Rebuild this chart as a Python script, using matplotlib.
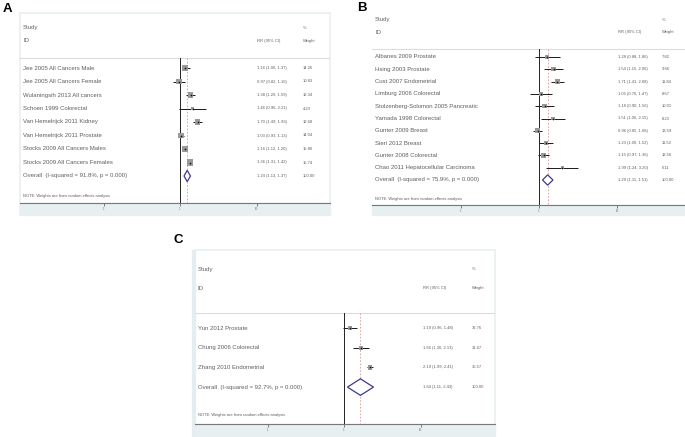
import numpy as np
import matplotlib.pyplot as plt
from matplotlib.patches import Rectangle, Polygon

plt.rcParams['font.family'] = ['Liberation Sans', 'DejaVu Sans']

W, H = 685, 437

# ---- panel A data ----
a_studies = ["Jee 2005 All Cancers Male", "Jee 2005 All Cancers Female",
             "Wulaningsih 2013 All cancers", "Schoen 1999 Colorectal",
             "Van Hemelrijck 2011 Kidney", "Van Hemelrijck 2011 Prostate",
             "Stocks 2009 All Cancers Males", "Stocks 2009 All Cancers Females"]
a_rr = [1.16, 0.97, 1.38, 1.46, 1.70, 1.03, 1.16, 1.36]
a_lo = [1.06, 0.82, 1.20, 0.96, 1.49, 0.93, 1.12, 1.31]
a_hi = [1.37, 1.16, 1.59, 2.21, 1.93, 1.13, 1.20, 1.42]
a_w = [14.26, 10.83, 12.34, 4.23, 12.68, 14.04, 15.80, 15.74]
a_overall = [1.24, 1.13, 1.37]
a_i2 = "91.8%"

# ---- panel B data ----
b_studies = ["Albanes 2009 Prostate", "Hsing 2003 Prostate", "Cust 2007 Endometrial",
             "Limburg 2006 Colorectal", "Stolzenberg-Solomon 2005 Pancreatic",
             "Yamada 1998 Colorectal", "Gunter 2009 Breast", "Sieri 2012 Breast",
             "Gunter 2008 Colorectal", "Chao 2011 Hepatocellular Carcinoma"]
b_rr = [1.28, 1.54, 1.71, 1.05, 1.18, 1.51, 0.96, 1.23, 1.15, 1.99]
b_lo = [0.88, 1.15, 1.41, 0.76, 0.90, 1.06, 0.85, 1.00, 0.97, 1.24]
b_hi = [1.86, 2.06, 2.08, 1.47, 1.56, 2.15, 1.08, 1.52, 1.36, 3.20]
b_w = [7.82, 9.66, 11.84, 8.67, 10.01, 8.23, 13.59, 11.52, 12.56, 6.11]
b_overall = [1.29, 1.11, 1.51]
b_i2 = "75.9%"

# ---- panel C data ----
c_studies = ["Yun 2012 Prostate", "Chung 2006 Colorectal", "Zhang 2010 Endometrial"]
c_rr = [1.19, 1.66, 2.19]
c_lo = [0.96, 1.30, 1.99]
c_hi = [1.48, 2.13, 2.41]
c_w = [32.76, 31.67, 35.57]
c_overall = [1.64, 1.11, 2.43]
c_i2 = "92.7%"

ticks = [0.1, 1, 10]
tick_labels = [".1", "1", "10"]

TXT = '#5e5e5e'

fig = plt.figure(figsize=(W / 100, H / 100), dpi=100)


def draw_panel(letter, studies, rr, lo, hi, w, overall, i2, lay):
    L, R, top, axis_y, strip_b = lay['box']
    row0, step = lay['row0'], lay['step']
    one_px, dec = lay['one_px'], lay['decade']
    r = lambda px: (px - row0) / step
    fx = lambda px: (px - L) / (R - L)

    # background strip and border
    fig.patches.append(Rectangle((L / W, 1 - strip_b / H), (R - L) / W, (strip_b - axis_y) / H,
                                 transform=fig.transFigure, color='#e8eff1', zorder=-2))
    if lay['border']:
        fig.patches.append(Rectangle((L / W, 1 - strip_b / H), (R - L) / W, (strip_b - top) / H,
                                     transform=fig.transFigure, fill=False,
                                     edgecolor='#e9eff2', lw=1.2, zorder=-1))
    if lay.get('leftbar'):
        fig.patches.append(Rectangle(((L - 3) / W, 1 - strip_b / H), 3 / W, (strip_b - top) / H,
                                     transform=fig.transFigure, color='#e6edf0', zorder=-1))

    ax = fig.add_axes([L / W, 1 - axis_y / H, (R - L) / W, (axis_y - top) / H])
    ax.set_xscale('log')
    ax.set_xlim(10 ** ((L - one_px) / dec), 10 ** ((R - one_px) / dec))
    ax.set_ylim(r(axis_y), r(top))
    ax.patch.set_alpha(0)
    for s in ['top', 'left', 'right']:
        ax.spines[s].set_visible(False)
    ax.spines['bottom'].set_color('#777777')
    ax.spines['bottom'].set_linewidth(0.8)
    ax.set_yticks([])
    ax.set_xticks(ticks)
    ax.set_xticklabels(tick_labels, fontsize=2.2, color='#777777')
    ax.xaxis.set_minor_locator(plt.NullLocator())
    ax.tick_params(axis='x', length=2.2, width=0.6, color='#666666', pad=1)

    n = len(studies)
    y = np.arange(n)
    hdr = r(lay['hdr'])

    ax.axhline(hdr, color='#dcdcdc', lw=0.8)
    ax.plot([1, 1], [hdr, r(axis_y)], color='#222222', lw=0.7)
    ax.plot([overall[0]] * 2, [hdr, r(axis_y)], color='#d39a9a', lw=0.6, ls=(0, (2, 2)))

    ax.hlines(y, lo, hi, color='#1a1a1a', lw=0.7)
    ax.scatter(rr, y, marker='s', s=(lay['sq'] * np.sqrt(w)) ** 2, color='#9a9a9a', zorder=3,
               linewidths=0)
    ax.scatter(rr, y, marker='o', s=1.5, color='#111111', zorder=4, linewidths=0)

    dh = 0.42
    diamond = Polygon([(overall[1], n), (overall[0], n - dh), (overall[2], n), (overall[0], n + dh)],
                      closed=True, facecolor='white', edgecolor='#3f3a8c', lw=0.9, zorder=3)
    ax.add_patch(diamond)

    tr = ax.get_yaxis_transform()
    lx, cx, wx = fx(lay['lab_x']), fx(lay['rr_x']), fx(lay['w_x'])
    big, small = 4.3, 3.0
    ax.text(lx, r(lay['study']), "Study", transform=tr, fontsize=big, color=TXT, va='center')
    ax.text(lx, r(lay['id']), "ID", transform=tr, fontsize=big, color=TXT, va='center')
    ax.text(cx, r(lay['id']), "RR (95% CI)", transform=tr, fontsize=small, color=TXT, va='center')
    ax.text(wx, r(lay['study']), "%", transform=tr, fontsize=small, color=TXT, va='center')
    ax.text(wx, r(lay['id']), "Weight", transform=tr, fontsize=small, color=TXT, va='center')

    for i in range(n):
        ax.text(lx, i, studies[i], transform=tr, fontsize=big, color=TXT, va='center')
        ax.text(cx, i, "%.2f (%.2f, %.2f)" % (rr[i], lo[i], hi[i]), transform=tr,
                fontsize=small, color=TXT, va='center')
        ax.text(wx, i, "%.2f" % w[i], transform=tr, fontsize=small, color=TXT, va='center')
    ax.text(lx, n, "Overall  (I-squared = %s, p = 0.000)" % i2, transform=tr, fontsize=big,
            color=TXT, va='center')
    ax.text(cx, n, "%.2f (%.2f, %.2f)" % tuple(overall), transform=tr, fontsize=small,
            color=TXT, va='center')
    ax.text(wx, n, "100.00", transform=tr, fontsize=small, color=TXT, va='center')
    ax.text(lx, r(lay['note']), "NOTE: Weights are from random effects analysis", transform=tr,
            fontsize=2.9, color=TXT, va='center')

    lxp, lyp = lay['letter']
    fig.text(lxp / W, 1 - lyp / H, letter, fontsize=9.5, fontweight='bold', color='black',
             va='top', ha='left')


draw_panel("A", a_studies, a_rr, a_lo, a_hi, a_w, a_overall, a_i2,
           dict(box=(20, 330, 13, 203, 215), row0=68, step=13.5, one_px=180, decade=76.5,
                hdr=58, study=28, id=41, note=196, lab_x=23, rr_x=257, w_x=303,
                sq=1.1, border=True, letter=(3, 3)))
draw_panel("B", b_studies, b_rr, b_lo, b_hi, b_w, b_overall, b_i2,
           dict(box=(372, 685, 8, 205, 215), row0=57, step=12.3, one_px=539, decade=78,
                hdr=49, study=20, id=32, note=199, lab_x=375, rr_x=618, w_x=662,
                sq=1.0, border=False, letter=(357, 2)))
draw_panel("C", c_studies, c_rr, c_lo, c_hi, c_w, c_overall, c_i2,
           dict(box=(195, 495, 250, 424, 436), row0=328, step=19.7, one_px=344, decade=76.5,
                hdr=313, study=269, id=288, note=415, lab_x=198, rr_x=423, w_x=472,
                sq=0.55, border=True, leftbar=True, letter=(174, 234)))

fig.savefig("out.png", dpi=100)
